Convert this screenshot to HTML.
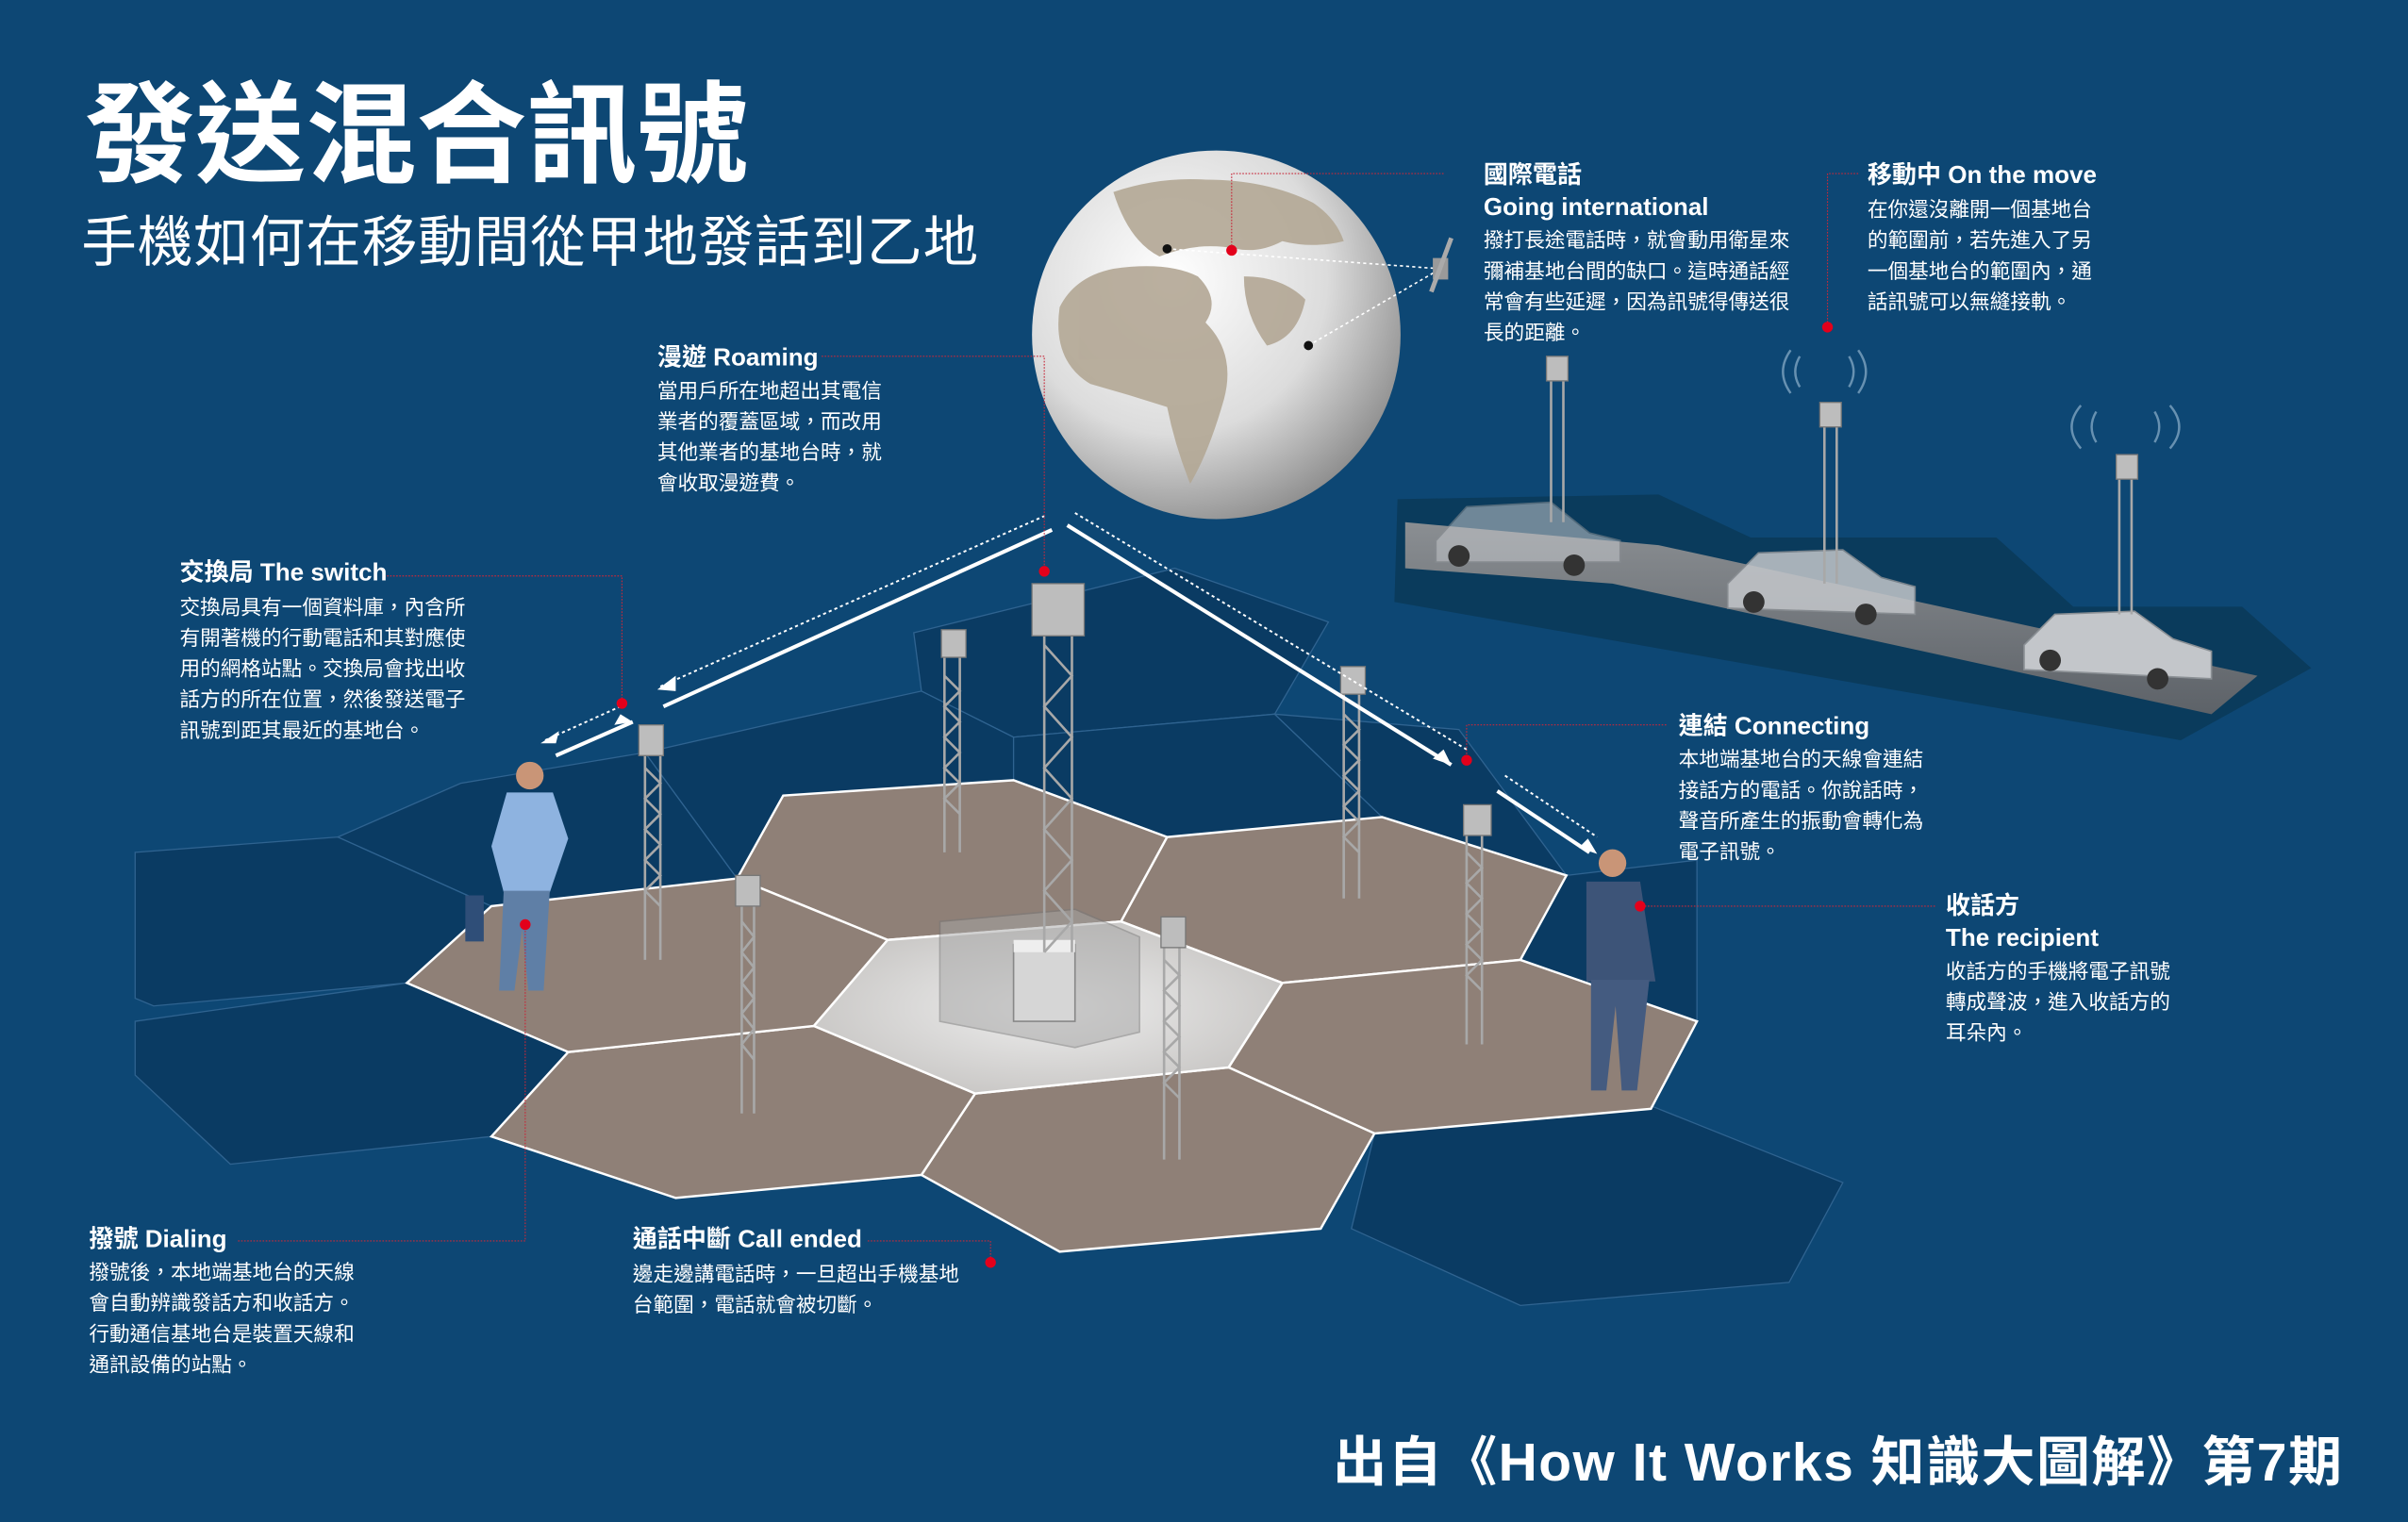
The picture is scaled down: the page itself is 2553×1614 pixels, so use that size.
<!DOCTYPE html>
<html><head><meta charset="utf-8">
<style>
html,body{margin:0;padding:0;background:#0d4774;}
svg{display:block}
text{font-family:"Liberation Sans","Noto Sans CJK TC",sans-serif;fill:#fff}
.h{font-size:16px;font-weight:bold}
.b{font-size:13.3px}
</style></head><body>
<svg width="2553" height="1614" viewBox="0 0 1568 991" preserveAspectRatio="none" xmlns="http://www.w3.org/2000/svg">
<defs>
<radialGradient id="globe" cx="0.38" cy="0.35" r="0.7">
<stop offset="0" stop-color="#ffffff"/><stop offset="0.6" stop-color="#dcdcdc"/><stop offset="1" stop-color="#8d8d8d"/>
</radialGradient>
<linearGradient id="road" x1="0" y1="0" x2="0" y2="1">
<stop offset="0" stop-color="#8a8e92"/><stop offset="1" stop-color="#5d6268"/>
</linearGradient>
<radialGradient id="light" cx="0.5" cy="0.5" r="0.6">
<stop offset="0" stop-color="#eeeeee"/><stop offset="1" stop-color="#c4c2c0"/>
</radialGradient>
</defs>
<rect width="1568" height="991" fill="#0d4774"/>

<g fill="#0a3b63" stroke="#2f6390" stroke-width="0.8">
<polygon points="88,555 220,545 320,590 265,640 100,655 88,650"/>
<polygon points="88,665 265,640 370,685 320,740 150,758 88,700"/>
<polygon points="220,545 300,510 420,490 480,572 320,590"/>
<polygon points="595,412 765,370 865,405 830,465 660,480 600,450"/>
<polygon points="420,490 508,470 600,450 660,480 660,508 510,518 480,572"/>
<polygon points="895,738 1075,720 1200,770 1165,835 990,850 880,800"/>
<polygon points="660,480 830,465 900,532 760,545 660,508"/>
<polygon points="830,465 950,475 1020,570 900,532"/>
<polygon points="1020,570 1105,560 1105,665 990,625"/>
</g>

<g fill="#8f8077" stroke="#ffffff" stroke-width="1.5">
<polygon points="480,572 510,518 660,508 760,545 730,600 578,612"/>
<polygon points="730,600 760,545 900,532 1020,570 990,625 835,640"/>
<polygon points="835,640 990,625 1105,665 1075,722 895,738 800,695"/>
<polygon points="600,765 635,712 800,695 895,738 860,800 690,815"/>
<polygon points="320,740 370,685 530,668 635,712 600,765 440,780"/>
<polygon points="265,640 320,590 480,572 578,612 530,668 370,685"/>
</g>
<polygon points="530,668 578,612 730,600 835,640 800,695 635,712" fill="url(#light)" stroke="#fff" stroke-width="1.5"/>

<g>
<polygon points="612,600 700,592 742,610 742,672 700,682 612,665" fill="#a6a6a6" opacity="0.5" stroke="#777"/>
<rect x="660" y="615" width="40" height="50" fill="#d6d6d6" stroke="#888"/>
<rect x="660" y="612" width="40" height="8" fill="#eee"/>
</g>

<!-- road panel -->
<polygon points="910,325 1080,322 1140,350 1300,350 1350,395 1460,395 1505,435 1420,482 908,392" fill="#0a3b5c"/>
<polygon points="915,340 1080,355 1470,440 1440,465 1050,380 915,370" fill="url(#road)"/>
<g fill="#c3c6ca" stroke="#8a8f94">
<path d="M935,352 l20,-22 l55,-3 l25,20 l20,5 l0,14 l-120,0 z" opacity="0.55"/>
<path d="M1125,380 l20,-20 l55,-2 l25,18 l22,6 l0,18 l-122,-4 z" opacity="0.85"/>
<path d="M1318,420 l20,-20 l52,-2 l25,18 l25,8 l0,18 l-122,-6 z"/>
</g>
<g fill="#333"><circle cx="950" cy="362" r="7"/><circle cx="1025" cy="368" r="7"/><circle cx="1142" cy="392" r="7"/><circle cx="1215" cy="400" r="7"/><circle cx="1335" cy="430" r="7"/><circle cx="1405" cy="442" r="7"/></g>

<!-- globe -->
<circle cx="792" cy="218" r="120" fill="url(#globe)"/>
<g fill="#b3a795" opacity="0.9">
<path d="M725,125 q30,-10 60,-8 q40,0 70,15 q15,10 20,25 q-20,5 -40,0 q-15,8 -30,5 q-25,-5 -50,5 q-20,-10 -30,-42z"/>
<path d="M690,200 q10,-20 35,-25 q35,-5 55,5 q15,15 5,30 q20,20 12,50 q-10,35 -22,55 q-10,-25 -15,-50 q-25,-8 -50,-15 q-25,-15 -20,-50z"/>
<path d="M810,180 q25,0 40,15 q-5,25 -25,30 q-15,-20 -15,-45z"/>
</g>
<g stroke="#fff" stroke-width="1" stroke-dasharray="2,2" fill="none">
<line x1="760" y1="162" x2="938" y2="175"/>
<line x1="852" y1="225" x2="938" y2="175"/>
</g>
<circle cx="760" cy="162" r="3" fill="#111"/><circle cx="852" cy="225" r="3" fill="#111"/>
<circle cx="802" cy="163" r="3.5" fill="#e3001b"/>
<g><rect x="933" y="168" width="10" height="14" fill="#9a9a9a"/><line x1="945" y1="155" x2="932" y2="190" stroke="#aaa" stroke-width="3"/></g>

<!-- towers -->
<g fill="none" stroke="#a8a8a8" stroke-width="1.6">
<path d="M680,410 L680,620 M698,410 L698,620 M680,420 l18,20 l-18,20 l18,20 l-18,20 l18,20 l-18,20 l18,20 l-18,20 l18,20 l-18,20"/>
<path d="M615,425 L615,555 M625,425 L625,555 M615,440 l10,10 l-10,10 l10,10 l-10,10 l10,10 l-10,10 l10,10 l-10,10 l10,10"/>
<path d="M875,450 L875,585 M885,450 L885,585 M875,465 l10,10 l-10,10 l10,10 l-10,10 l10,10 l-10,10 l10,10 l-10,10 l10,10"/>
<path d="M420,485 L420,625 M430,485 L430,625 M420,500 l10,10 l-10,10 l10,10 l-10,10 l10,10 l-10,10 l10,10 l-10,10 l10,10"/>
<path d="M483,585 L483,725 M491,585 L491,725 M483,600 l8,10 l-8,10 l8,10 l-8,10 l8,10 l-8,10 l8,10 l-8,10 l8,10"/>
<path d="M758,610 L758,755 M768,610 L768,755 M758,625 l10,10 l-10,10 l10,10 l-10,10 l10,10 l-10,10 l10,10 l-10,10 l10,10"/>
<path d="M955,540 L955,680 M965,540 L965,680 M955,555 l10,10 l-10,10 l10,10 l-10,10 l10,10 l-10,10 l10,10 l-10,10 l10,10"/>
<path d="M1010,245 L1010,340 M1018,245 L1018,340"/>
<path d="M1188,275 L1188,380 M1196,275 L1196,380"/>
<path d="M1380,310 L1380,400 M1388,310 L1388,400"/>
</g>
<g fill="#bdbdbd" stroke="#777" stroke-width="0.8">
<rect x="672" y="380" width="34" height="34"/>
<rect x="613" y="410" width="16" height="18"/>
<rect x="873" y="434" width="16" height="18"/>
<rect x="416" y="472" width="16" height="20"/>
<rect x="479" y="570" width="16" height="20"/>
<rect x="756" y="597" width="16" height="20"/>
<rect x="953" y="524" width="18" height="20"/>
<rect x="1007" y="232" width="14" height="16"/>
<rect x="1185" y="262" width="14" height="16"/>
<rect x="1378" y="296" width="14" height="16"/>
</g>
<g fill="none" stroke="#8fb0cc" stroke-width="1.5" opacity="0.7">
<path d="M1172,232 q-6,10 0,20 M1166,228 q-10,14 0,28 M1204,232 q6,10 0,20 M1210,228 q10,14 0,28"/>
<path d="M1365,268 q-6,10 0,20 M1355,264 q-12,14 0,28 M1403,268 q6,10 0,20 M1413,264 q12,14 0,28"/>
</g>

<!-- people -->
<g>
<circle cx="345" cy="505" r="9" fill="#c99577"/>
<path d="M330,516 l30,0 l10,30 l-12,35 l-30,0 l-8,-30z" fill="#8eb3e0"/>
<path d="M328,580 l30,0 l-4,65 l-10,0 l-4,-40 l-5,40 l-10,0z" fill="#5f7fa6"/>
<rect x="303" y="583" width="12" height="30" fill="#2f4e78"/>
<circle cx="1050" cy="562" r="9" fill="#c99577"/>
<path d="M1033,574 l35,0 l10,65 l-45,0z" fill="#3d5478"/>
<path d="M1036,638 l38,0 l-8,72 l-10,0 l-4,-55 l-6,55 l-10,0z" fill="#445b80"/>
</g>

<g stroke="#fff" fill="none">
<line x1="432" y1="460" x2="685" y2="345" stroke-width="2.5"/>
<line x1="430" y1="447" x2="680" y2="336" stroke-width="1.2" stroke-dasharray="2,2"/>
<line x1="362" y1="492" x2="412" y2="470" stroke-width="2.5"/>
<line x1="355" y1="482" x2="404" y2="460" stroke-width="1.2" stroke-dasharray="2,2"/>
<line x1="695" y1="342" x2="945" y2="498" stroke-width="2.5"/>
<line x1="700" y1="334" x2="955" y2="488" stroke-width="1.2" stroke-dasharray="2,2"/>
<line x1="975" y1="515" x2="1035" y2="555" stroke-width="2.5"/>
<line x1="980" y1="505" x2="1040" y2="545" stroke-width="1.2" stroke-dasharray="2,2"/>
</g>
<g fill="#fff">
<polygon points="428,449 440,440 440,450"/>
<polygon points="412,470 400,472 404,465"/>
<polygon points="352,484 364,476 362,484"/>
<polygon points="945,498 933,494 940,488"/>
<polygon points="1040,556 1028,552 1034,546"/>
</g>

<g stroke="#c7283a" stroke-width="0.7" fill="none" stroke-dasharray="1,1">
<polyline points="250,375 405,375 405,458"/>
<polyline points="535,232 680,232 680,372"/>
<polyline points="940,113 802,113 802,160"/>
<polyline points="1210,113 1190,113 1190,212"/>
<polyline points="1085,472 955,472 955,494"/>
<polyline points="1260,590 1068,590"/>
<polyline points="155,808 342,808 342,602"/>
<polyline points="565,808 645,808 645,822"/>
</g>
<g fill="#e3001b">
<circle cx="405" cy="458" r="3.5"/><circle cx="680" cy="372" r="3.5"/><circle cx="1190" cy="213" r="3.5"/>
<circle cx="955" cy="495" r="3.5"/><circle cx="1068" cy="590" r="3.5"/><circle cx="342" cy="602" r="3.5"/><circle cx="645" cy="822" r="3.5"/>
</g>

<text x="55" y="113" style="font-size:72px;font-weight:bold">發送混合訊號</text>
<text x="53" y="170" style="font-size:36px" textLength="584">手機如何在移動間從甲地發話到乙地</text>

<text x="428" y="238" class="h">漫遊 Roaming</text>
<text class="b"><tspan x="428" y="259">當用戶所在地超出其電信</tspan><tspan x="428" y="279">業者的覆蓋區域，而改用</tspan><tspan x="428" y="299">其他業者的基地台時，就</tspan><tspan x="428" y="319">會收取漫遊費。</tspan></text>

<text x="117" y="378" class="h">交換局 The switch</text>
<text class="b"><tspan x="117" y="400">交換局具有一個資料庫，內含所</tspan><tspan x="117" y="420">有開著機的行動電話和其對應使</tspan><tspan x="117" y="440">用的網格站點。交換局會找出收</tspan><tspan x="117" y="460">話方的所在位置，然後發送電子</tspan><tspan x="117" y="480">訊號到距其最近的基地台。</tspan></text>

<text x="966" y="119" class="h">國際電話</text>
<text x="966" y="140" class="h">Going international</text>
<text class="b"><tspan x="966" y="161">撥打長途電話時，就會動用衛星來</tspan><tspan x="966" y="181">彌補基地台間的缺口。這時通話經</tspan><tspan x="966" y="201">常會有些延遲，因為訊號得傳送很</tspan><tspan x="966" y="221">長的距離。</tspan></text>

<text x="1216" y="119" class="h">移動中 On the move</text>
<text class="b"><tspan x="1216" y="141">在你還沒離開一個基地台</tspan><tspan x="1216" y="161">的範圍前，若先進入了另</tspan><tspan x="1216" y="181">一個基地台的範圍內，通</tspan><tspan x="1216" y="201">話訊號可以無縫接軌。</tspan></text>

<text x="1093" y="478" class="h">連結 Connecting</text>
<text class="b"><tspan x="1093" y="499">本地端基地台的天線會連結</tspan><tspan x="1093" y="519">接話方的電話。你說話時，</tspan><tspan x="1093" y="539">聲音所產生的振動會轉化為</tspan><tspan x="1093" y="559">電子訊號。</tspan></text>

<text x="1267" y="595" class="h">收話方</text>
<text x="1267" y="616" class="h">The recipient</text>
<text class="b"><tspan x="1267" y="637">收話方的手機將電子訊號</tspan><tspan x="1267" y="657">轉成聲波，進入收話方的</tspan><tspan x="1267" y="677">耳朵內。</tspan></text>

<text x="58" y="812" class="h">撥號 Dialing</text>
<text class="b"><tspan x="58" y="833">撥號後，本地端基地台的天線</tspan><tspan x="58" y="853">會自動辨識發話方和收話方。</tspan><tspan x="58" y="873">行動通信基地台是裝置天線和</tspan><tspan x="58" y="893">通訊設備的站點。</tspan></text>

<text x="412" y="812" class="h">通話中斷 Call ended</text>
<text class="b"><tspan x="412" y="834">邊走邊講電話時，一旦超出手機基地</tspan><tspan x="412" y="854">台範圍，電話就會被切斷。</tspan></text>

<text x="868" y="964" style="font-size:35px;font-weight:bold" textLength="657">出自《How It Works 知識大圖解》第7期</text>
</svg>
</body></html>
